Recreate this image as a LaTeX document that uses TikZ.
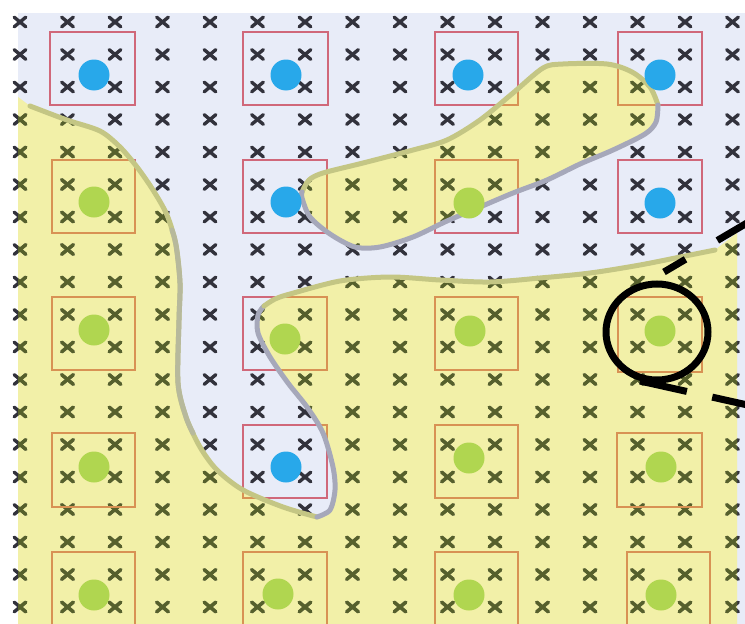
\documentclass[tikz,border=0pt]{standalone}
\usetikzlibrary{shapes.geometric}
\definecolor{bglav}{RGB}{232,236,248}
\definecolor{yel}{RGB}{242,240,168}
\definecolor{xdark}{RGB}{50,50,60}
\definecolor{xolive}{RGB}{86,96,44}
\definecolor{sqred}{RGB}{208,104,122}
\definecolor{sqorange}{RGB}{216,146,84}
\definecolor{oliveline}{RGB}{196,198,132}
\definecolor{grayline}{RGB}{166,168,186}
\definecolor{dotblue}{RGB}{40,168,234}
\definecolor{dotgreen}{RGB}{176,214,80}
\tikzset{
  xmark/.style={line width=3.4pt, line cap=round},
  sqbox/.style={line width=1.5pt},
  bound/.style={line width=5pt, line cap=round, line join=round},
  dotnode/.style={circle, minimum size=31pt, inner sep=0pt, draw=none},
  lensnode/.style={ellipse, draw=black, line width=7pt, minimum width=102pt, minimum height=96pt, inner sep=0pt},
  dashline/.style={line width=7pt, line cap=butt},
}
\newcommand\mainregion{(18,97) -- plot[smooth] coordinates {(30,106) (67,120) (100,131) (120,147) (137,167) (153,190) (167,215) (176,245) (180,283) (179,320) (178,383) (186,417) (200,447) (217,470) (243,490) (283,507) (317,517) (330,510) (335,490) (333,467) (323,433) (307,407) (288,383) (270,357) (258,333) (258,315) (268,302) (290,294) (340,281) (390,277) (440,280) (490,282) (540,278) (590,273) (640,265) (690,255) (715,250)} -- (737,233) -- (737,624) -- (18,624) -- cycle}
\newcommand\blobregion{plot[smooth cycle] coordinates {(303,186) (323,173) (363,163) (413,150) (447,140) (480,120) (513,93) (543,68) (563,64) (607,64) (632,72) (650,87) (658,105) (656,122) (645,134) (613,150) (580,164) (547,180) (513,193) (480,207) (447,221) (413,237) (380,247) (355,247) (330,234) (310,217) (302,198)}}
\newcommand\allmarks[1]{%
  \foreach \i in {0,...,15}{\foreach \j in {0,...,18}{
    \draw[xmark,#1] ({20+47.5*\i-5.8},{22+32.5*\j-4.8}) -- ++(11.6,9.6);
    \draw[xmark,#1] ({20+47.5*\i-5.8},{22+32.5*\j+4.8}) -- ++(11.6,-9.6);
  }}}
\newcommand\allsquares[1]{%
  \foreach \a/\b/\c/\d in {50/32/135/105, 243/32/328/105, 435/32/518/105, 618/32/702/105,
    52/160/135/233, 243/160/327/233, 435/160/518/233, 618/160/702/233,
    52/297/135/370, 243/297/327/370, 435/297/518/370, 618/297/702/372,
    52/433/135/507, 243/425/327/498, 435/425/518/498, 617/433/702/507,
    52/552/135/630, 243/552/327/630, 435/552/518/630, 627/552/710/630}{
    \draw[sqbox,#1] (\a,\b) rectangle (\c,\d);
  }}
\begin{document}
\begin{tikzpicture}[x=1pt,y=-1pt]
\useasboundingbox (0,0) rectangle (745,624);
\fill[white] (0,0) rectangle (745,624);
\fill[bglav] (18,13) rectangle (745,624);
% regions
\fill[yel] \mainregion;
\fill[yel] \blobregion;
% marks and squares outside
\allmarks{xdark}
\allsquares{sqred}
% inside the yellow regions
\begin{scope}
  \clip \mainregion \blobregion;
  \fill[yel, opacity=0.35] (0,0) rectangle (745,624);
  \allmarks{xolive}
  \allsquares{sqorange}
\end{scope}
% boundary lines
\draw[bound, oliveline] plot[smooth] coordinates {(30,106) (67,120) (100,131) (120,147) (137,167) (153,190) (167,215) (176,245) (180,283) (179,320) (178,383) (186,417) (200,447) (217,470) (243,490) (283,507) (317,517)};
\draw[bound, oliveline!55!grayline] plot[smooth] coordinates {(172,230) (176,245) (180,283) (179,320) (178,383) (186,417) (193,433)};
\draw[bound, grayline] plot[smooth] coordinates {(317,517) (330,510) (335,490) (333,467) (323,433) (307,407) (288,383) (270,357) (258,333) (258,315) (264,306)};
\draw[bound, oliveline] plot[smooth] coordinates {(264,306) (275,299) (290,294) (340,281) (390,277) (440,280) (490,282) (540,278) (590,273) (640,265) (690,255) (715,250)};
\draw[bound, oliveline] plot[smooth] coordinates {(302,192) (309,180) (323,173) (363,163) (413,150) (447,140) (480,120) (513,93) (543,68) (563,64) (607,64) (632,72) (650,87) (658,105)};
\draw[bound, grayline] plot[smooth] coordinates {(658,105) (656,122) (645,134) (613,150) (580,164) (547,180) (513,193) (480,207) (447,221) (413,237) (380,247) (355,247) (330,234) (310,217) (302,198) (302,192)};
% dots
\foreach \px/\py/\col [count=\n] in {94/75/dotblue, 286/75/dotblue, 468/75/dotblue, 660/75/dotblue,
  94/202/dotgreen, 286/202/dotblue, 469/203/dotgreen, 660/203/dotblue,
  94/330/dotgreen, 285/339/dotgreen, 470/331/dotgreen, 660/331/dotgreen,
  94/467/dotgreen, 286/467/dotblue, 469/458/dotgreen, 661/467/dotgreen,
  94/595/dotgreen, 278/594/dotgreen, 469/595/dotgreen, 661/595/dotgreen}{
  \node[dotnode, fill=\col] (dot\n) at (\px,\py) {};
}
% magnifier circle and dashed lines
\node[lensnode] (lens) at (657,332) {};
\coordinate (u1) at (664,272);
\coordinate (u2) at (752,220);
\coordinate (l1) at (640,381);
\coordinate (l2) at (752,406);
\draw[dashline, dash pattern=on 25pt off 37pt on 60pt] (u1) -- (u2);
\draw[dashline, dash pattern=on 48pt off 26pt on 60pt] (l1) -- (l2);
\end{tikzpicture}
\end{document}
